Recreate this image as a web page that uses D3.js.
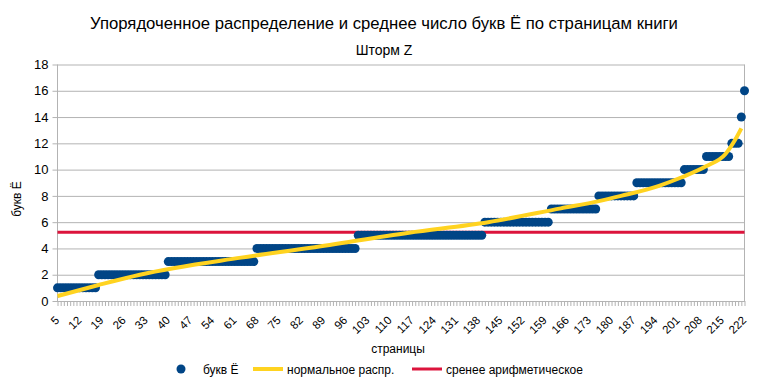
<!DOCTYPE html>
<html>
<head>
<meta charset="utf-8">
<script src="https://cdn.jsdelivr.net/npm/d3@7"></script>
<style>
  body { margin: 0; background: #fff; }
  svg { font-family: "Liberation Sans", Arial, sans-serif; }
  .grid line { stroke: #b3b3b3; }
  .grid path { display: none; }
  .axis path, .axis line { stroke: #b3b3b3; }
  .axis text { fill: #000; }
</style>
</head>
<body>
<script>
// pages of the book (categories), first and last page shown on the axis
const firstPage = 5, lastPage = 222
const xTickLabels = [5, 12, 19, 26, 33, 40, 47, 54, 61, 68, 75, 82, 89, 96, 103, 110,
  117, 124, 131, 138, 145, 152, 159, 166, 173, 180, 187, 194, 201, 208, 215, 222]
const yTicks = [0, 2, 4, 6, 8, 10, 12, 14, 16, 18]

// sorted number of letters Ё on each page
const letterCounts = [
  1, 1, 1, 1, 1, 1, 1, 1, 1, 1, 1, 1, 1,
  2, 2, 2, 2, 2, 2, 2, 2, 2, 2, 2, 2, 2, 2, 2, 2, 2, 2, 2, 2, 2, 2,
  3, 3, 3, 3, 3, 3, 3, 3, 3, 3, 3, 3, 3, 3, 3, 3, 3, 3, 3, 3, 3, 3, 3, 3, 3, 3, 3, 3,
  4, 4, 4, 4, 4, 4, 4, 4, 4, 4, 4, 4, 4, 4, 4, 4, 4, 4, 4, 4, 4, 4, 4, 4, 4, 4, 4, 4, 4, 4, 4, 4,
  5, 5, 5, 5, 5, 5, 5, 5, 5, 5, 5, 5, 5, 5, 5, 5, 5, 5, 5, 5,
  5, 5, 5, 5, 5, 5, 5, 5, 5, 5, 5, 5, 5, 5, 5, 5, 5, 5, 5, 5,
  6, 6, 6, 6, 6, 6, 6, 6, 6, 6, 6, 6, 6, 6, 6, 6, 6, 6, 6, 6, 6,
  7, 7, 7, 7, 7, 7, 7, 7, 7, 7, 7, 7, 7, 7, 7,
  8, 8, 8, 8, 8, 8, 8, 8, 8, 8, 8, 8,
  9, 9, 9, 9, 9, 9, 9, 9, 9, 9, 9, 9, 9, 9, 9,
  10, 10, 10, 10, 10, 10, 10,
  11, 11, 11, 11, 11, 11, 11, 11,
  12, 12, 12,
  14,
  16
]

// "normal distribution" curve
const normalPages  = [5, 18, 31, 63, 85, 116, 141, 164, 176, 183, 195, 202, 210, 216, 219, 221]
const normalValues = [0.38, 1.22, 2.0, 3.3, 4.05, 5.2, 6.0, 7.05, 7.6, 8.0, 8.77, 9.4, 10.27, 11.19, 12.25, 13.14]

// arithmetic mean
const meanValue = 5.23

const pages = d3.range(firstPage, lastPage + 1)

const svgWidth = 761, svgHeight = 387
const plot = {left: 57.5, right: 744.5, top: 64.5, bottom: 301}

const svg = d3.select('body').append('svg')
  .attr('width', svgWidth)
  .attr('height', svgHeight)

const x = d3.scalePoint().domain(pages).range([plot.left, plot.right])
const y = d3.scaleLinear().domain([0, 18]).range([plot.bottom, plot.top])

// titles
svg.append('text')
  .attr('x', 384).attr('y', 29)
  .attr('text-anchor', 'middle')
  .style('font-size', '16.7px')
  .text('Упорядоченное распределение и среднее число букв Ё по страницам книги')

svg.append('text')
  .attr('x', 384).attr('y', 55)
  .attr('text-anchor', 'middle')
  .style('font-size', '14px')
  .text('Шторм Z')

// grid + y axis
const yAxis = svg.append('g')
  .attr('class', 'axis grid')
  .attr('transform', 'translate(' + plot.left + ',0)')
  .call(d3.axisLeft(y).tickValues(yTicks).tickSize(-(plot.right - plot.left)).tickPadding(9))
yAxis.selectAll('line').attr('x1', -5)
yAxis.selectAll('text').style('font-size', '13px')

svg.append('line')
  .attr('x1', plot.left).attr('x2', plot.left)
  .attr('y1', plot.top).attr('y2', plot.bottom)
  .attr('stroke', '#b3b3b3')
svg.append('line')
  .attr('x1', plot.right).attr('x2', plot.right)
  .attr('y1', plot.top).attr('y2', plot.bottom)
  .attr('stroke', '#b3b3b3')

// x axis
const xAxis = svg.append('g')
  .attr('class', 'axis')
  .attr('transform', 'translate(0,' + plot.bottom + ')')
  .call(d3.axisBottom(x).tickSize(5).tickSizeOuter(0)
    .tickFormat(function(d) { return xTickLabels.includes(d) ? d : '' }))
xAxis.selectAll('text')
  .style('font-size', '11.5px')
  .attr('text-anchor', 'end')
  .attr('transform', 'translate(2,20) rotate(-45)')
  .attr('dy', 0)
  .attr('y', 0)

svg.append('text')
  .attr('x', 398).attr('y', 353)
  .attr('text-anchor', 'middle')
  .style('font-size', '12px')
  .text('страницы')

svg.append('text')
  .attr('transform', 'translate(21,199) rotate(-90)')
  .attr('text-anchor', 'middle')
  .style('font-size', '12px')
  .text('букв Ё')

// mean line
svg.append('line')
  .attr('x1', plot.left).attr('x2', plot.right)
  .attr('y1', y(meanValue)).attr('y2', y(meanValue))
  .attr('stroke', '#dc143c')
  .attr('stroke-width', 3)

// points
svg.append('g')
  .selectAll('circle')
  .data(letterCounts)
  .enter().append('circle')
  .attr('cx', function(d, i) { return x(pages[i]) })
  .attr('cy', function(d) { return y(d) })
  .attr('r', 4.5)
  .attr('fill', '#004586')

// normal curve
const normalLine = d3.line()
  .curve(d3.curveMonotoneX)
  .x(function(d, i) { return x(normalPages[i]) })
  .y(function(d) { return y(d) })

svg.append('path')
  .datum(normalValues)
  .attr('fill', 'none')
  .attr('stroke', '#ffd320')
  .attr('stroke-width', 4)
  .attr('d', normalLine)

// legend
const legend = svg.append('g').style('font-size', '12px')
legend.append('circle').attr('cx', 181).attr('cy', 369).attr('r', 4.5).attr('fill', '#004586')
legend.append('text').attr('x', 203).attr('y', 373.5).text('букв Ё')
legend.append('line').attr('x1', 253).attr('x2', 283).attr('y1', 369).attr('y2', 369)
  .attr('stroke', '#ffd320').attr('stroke-width', 4)
legend.append('text').attr('x', 287).attr('y', 373.5).text('нормальное распр.')
legend.append('line').attr('x1', 412).attr('x2', 442).attr('y1', 369).attr('y2', 369)
  .attr('stroke', '#dc143c').attr('stroke-width', 3)
legend.append('text').attr('x', 446).attr('y', 373.5).text('сренее арифметическое')
</script>
</body>
</html>
